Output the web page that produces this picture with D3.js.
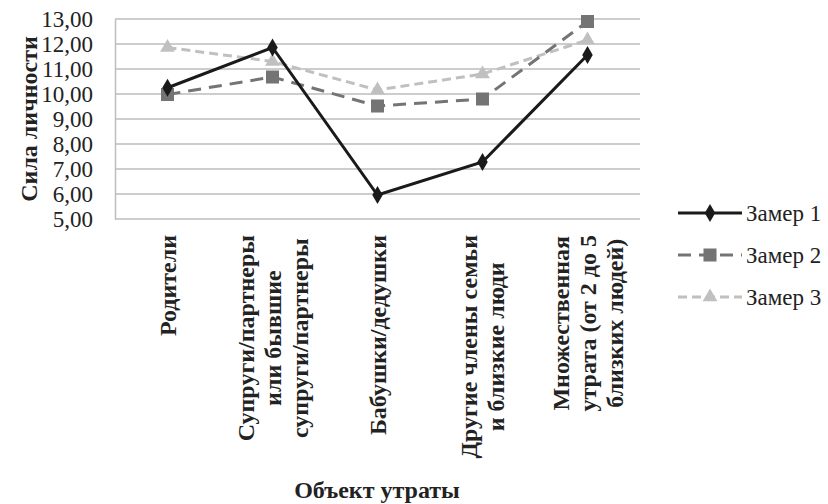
<!DOCTYPE html>
<html>
<head>
<meta charset="utf-8">
<script src="https://cdn.jsdelivr.net/npm/d3@7"></script>
<style>
  body { margin: 0; background: #fff; }
  svg { display: block; }
  svg text { font-family: "Liberation Serif", "Times New Roman", serif; fill: #222; }
</style>
</head>
<body>
<div class="chart"></div>
<script>
// categories (lines of each label)
var categories = [
  ["Родители"],
  ["Супруги/партнеры", "или бывшие", "супруги/партнеры"],
  ["Бабушки/дедушки"],
  ["Другие члены семьи", "и близкие люди"],
  ["Множественная", "утрата (от 2 до 5", "близких людей)"]
];
var seriesNames = ["Замер 1", "Замер 2", "Замер 3"];
var zamer1 = [10.25, 11.86, 5.96, 7.28, 11.56];
var zamer2 = [9.98, 10.68, 9.52, 9.80, 12.90];
var zamer3 = [11.86, 11.30, 10.16, 10.80, 12.16];
var yTicks = [5, 6, 7, 8, 9, 10, 11, 12, 13];

var W = 828, H = 504;
var plotLeft = 115, plotRight = 640, plotTop = 19, plotBottom = 219;

var svg = d3.select(".chart").append("svg")
  .attr("width", W).attr("height", H);

var x = d3.scaleBand()
  .domain(d3.range(categories.length))
  .range([plotLeft, plotRight]);

var y = d3.scaleLinear()
  .domain([5, 13])
  .range([plotBottom, plotTop]);

var fmt = function(d) { return d3.format(".2f")(d).replace(".", ","); };

// gridlines
svg.append("g")
  .selectAll("line")
  .data(yTicks)
  .enter().append("line")
  .attr("x1", plotLeft).attr("x2", plotRight)
  .attr("y1", function(d) { return y(d); })
  .attr("y2", function(d) { return y(d); })
  .attr("stroke", "#bdbdbd")
  .attr("stroke-width", 1.5);

// y axis
var yAxis = svg.append("g")
  .attr("transform", "translate(" + plotLeft + ",0)")
  .call(d3.axisLeft(y).tickValues(yTicks).tickFormat(fmt).tickSize(0).tickPadding(22));
yAxis.select(".domain").attr("stroke", "#bdbdbd").attr("stroke-width", 1.5);
yAxis.selectAll("text")
  .style("font-family", "'Liberation Serif', serif")
  .attr("font-size", 23)
  .attr("fill", "#222");

svg.append("text")
  .attr("transform", "translate(37," + ((plotTop + plotBottom) / 2) + ") rotate(-90)")
  .attr("text-anchor", "middle")
  .attr("font-weight", "bold")
  .attr("font-size", 24)
  .text("Сила личности");

// category labels, rotated, lines centred on each other, top-aligned
var labelTop = 235;
var lineGap = 27;
categories.forEach(function(lines, i) {
  var cx = x(i) + x.bandwidth() / 2;
  var g = svg.append("g");
  var texts = lines.map(function(l) {
    return g.append("text")
      .attr("font-weight", "bold")
      .attr("font-size", 24)
      .attr("text-anchor", "middle")
      .text(l);
  });
  var maxW = d3.max(texts, function(t) { return t.node().getComputedTextLength(); });
  var firstX = cx - (lines.length - 1) * lineGap / 2;
  texts.forEach(function(t, j) {
    t.attr("transform", "translate(" + (firstX + j * lineGap + 8) + "," + (labelTop + maxW / 2) + ") rotate(-90)");
  });
});

svg.append("text")
  .attr("x", 377)
  .attr("y", 498)
  .attr("text-anchor", "middle")
  .attr("font-weight", "bold")
  .attr("font-size", 24)
  .text("Объект утраты");

// series
var series = [
  { name: seriesNames[0], values: zamer1, color: "#1a1a1a", dash: null, symbol: d3.symbolDiamond, size: 95 },
  { name: seriesNames[1], values: zamer2, color: "#747474", dash: "13,8", symbol: d3.symbolSquare, size: 170 },
  { name: seriesNames[2], values: zamer3, color: "#c0c0c0", dash: "9,5", symbol: d3.symbolTriangle, size: 95 }
];

var line = d3.line()
  .x(function(d, i) { return x(i) + x.bandwidth() / 2; })
  .y(function(d) { return y(d); });

series.slice().reverse().forEach(function(s) {
  svg.append("path")
    .datum(s.values)
    .attr("d", line)
    .attr("fill", "none")
    .attr("stroke", s.color)
    .attr("stroke-width", 3)
    .attr("stroke-dasharray", s.dash);

  svg.append("g")
    .selectAll("path")
    .data(s.values)
    .enter().append("path")
    .attr("transform", function(d, i) { return "translate(" + (x(i) + x.bandwidth() / 2) + "," + y(d) + ")"; })
    .attr("d", d3.symbol().type(s.symbol).size(s.size))
    .attr("fill", s.color);
});

// legend
var legend = svg.append("g")
  .selectAll("g")
  .data(series)
  .enter().append("g")
  .attr("transform", function(d, i) { return "translate(678," + (213 + i * 42) + ")"; });

legend.append("line")
  .attr("x1", 0).attr("x2", 64)
  .attr("stroke", function(d) { return d.color; })
  .attr("stroke-width", 3)
  .attr("stroke-dasharray", function(d) { return d.dash; });

legend.append("path")
  .attr("transform", "translate(32,0)")
  .attr("d", function(d) { return d3.symbol().type(d.symbol).size(d.size)(); })
  .attr("fill", function(d) { return d.color; });

legend.append("text")
  .attr("x", 68)
  .attr("dy", "0.35em")
  .attr("font-size", 23)
  .text(function(d) { return d.name; });
</script>
</body>
</html>
